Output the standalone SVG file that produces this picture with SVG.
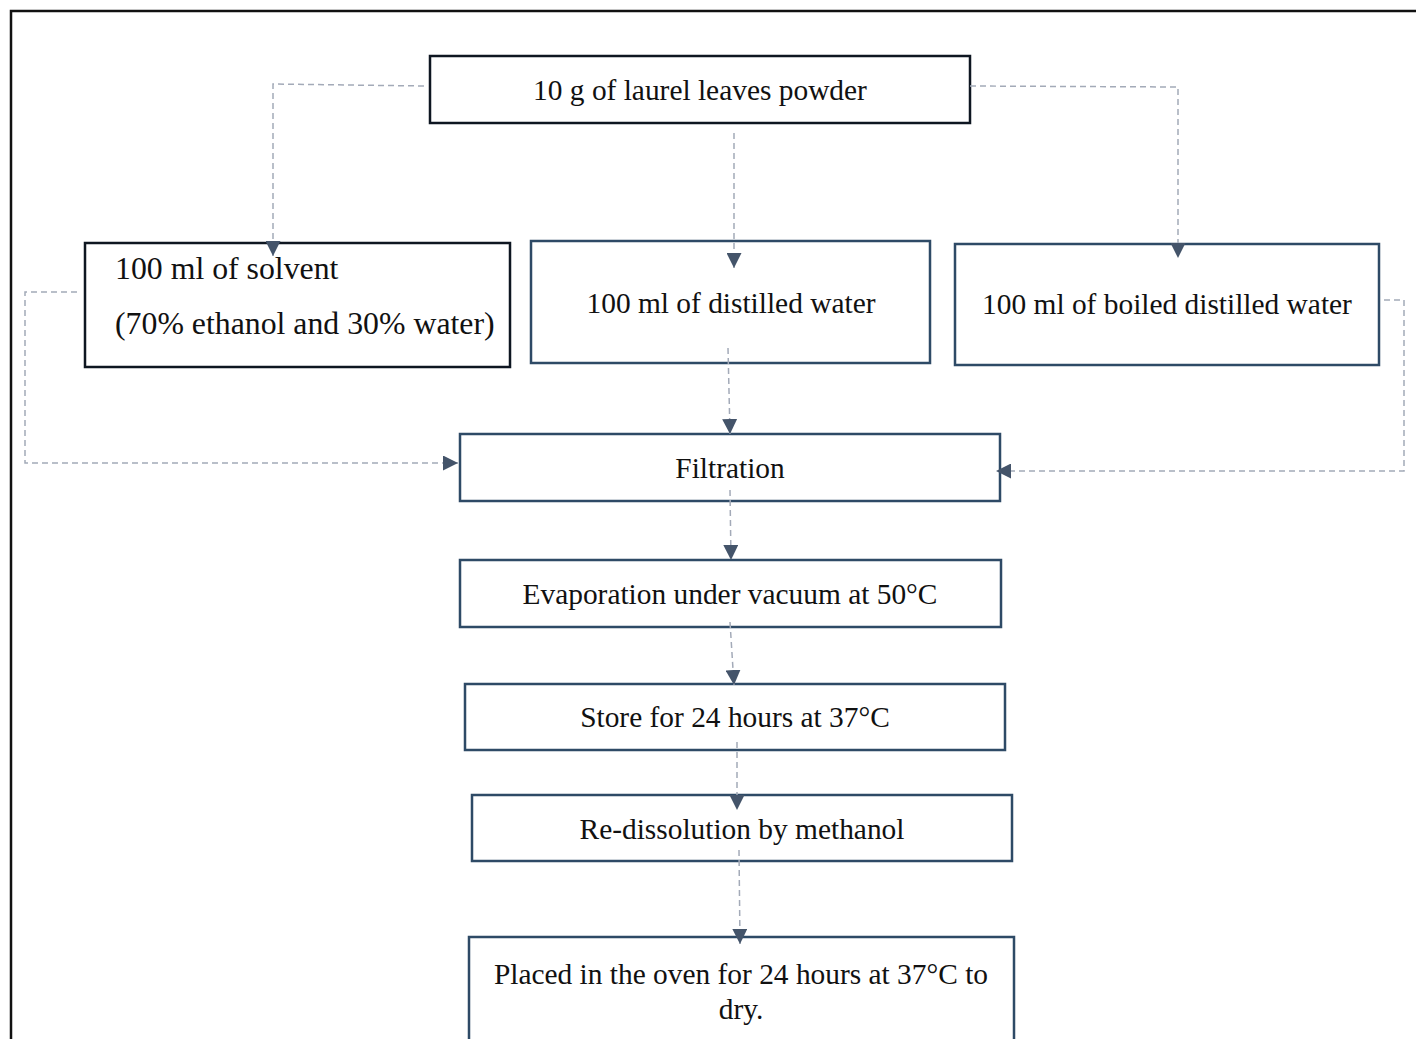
<svg xmlns="http://www.w3.org/2000/svg" width="1416" height="1039" viewBox="0 0 1416 1039">
<style>
.t{font-family:"Liberation Serif","Times New Roman",serif;font-size:29.4px;fill:#111}
.s{font-size:31.8px}
.c{text-anchor:middle}
.bk{fill:#fff;stroke:#0e1621;stroke-width:2.5}
.bl{fill:#fff;stroke:#2e4a66;stroke-width:2.5}
.cn{fill:none;stroke:#a3aab8;stroke-width:1.5;stroke-dasharray:6,4}
</style>
<defs>
<marker id="ah" viewBox="0 0 10 10" refX="10" refY="5" markerWidth="15" markerHeight="15" markerUnits="userSpaceOnUse" orient="auto">
<path d="M0,0 L10,5 L0,10 Z" fill="#44546a"/>
</marker>
</defs>
<rect x="11" y="11" width="1420" height="1040" fill="none" stroke="#111" stroke-width="2.5"/>
<g id="n1"><rect class="bk" x="430" y="56" width="540" height="67"/><text class="t c" x="700" y="100">10 g of laurel leaves powder</text></g>
<g id="n2"><rect class="bk" x="85" y="243" width="425" height="124"/><text class="t s" x="115" y="279">100 ml of solvent</text><text class="t s" x="115" y="334">(70% ethanol and 30% water)</text></g>
<g id="n3"><rect class="bl" x="531" y="241" width="399" height="122"/><text class="t c" x="731" y="313">100 ml of distilled water</text></g>
<g id="n4"><rect class="bl" x="955" y="244" width="424" height="121"/><text class="t c" x="1167" y="314">100 ml of boiled distilled water</text></g>
<g id="n5"><rect class="bl" x="460" y="434" width="540" height="67"/><text class="t c" x="730" y="478">Filtration</text></g>
<g id="n6"><rect class="bl" x="460" y="560" width="541" height="67"/><text class="t c" x="730" y="604">Evaporation under vacuum at 50°C</text></g>
<g id="n7"><rect class="bl" x="465" y="684" width="540" height="66"/><text class="t c" x="735" y="727">Store for 24 hours at 37°C</text></g>
<g id="n8"><rect class="bl" x="472" y="795" width="540" height="66"/><text class="t c" x="742" y="839">Re-dissolution by methanol</text></g>
<g id="n9"><rect class="bl" x="469" y="937" width="545" height="120"/><text class="t c" x="741" y="984">Placed in the oven for 24 hours at 37°C to</text><text class="t c" x="741" y="1019">dry.</text></g>
<g id="connectors">
<path class="cn" d="M424,86 L273,84 L273,256" marker-end="url(#ah)"/>
<path class="cn" d="M970,86 L1178,87 L1178,258" marker-end="url(#ah)"/>
<path class="cn" d="M734,133 L734,268" marker-end="url(#ah)"/>
<path class="cn" d="M728,348 L730,434" marker-end="url(#ah)"/>
<path class="cn" d="M77,292 L25,292 L25,463 L458,463" marker-end="url(#ah)"/>
<path class="cn" d="M1384,300 L1404,300 L1404,471 L996,471" marker-end="url(#ah)"/>
<path class="cn" d="M730,490 L731,560" marker-end="url(#ah)"/>
<path class="cn" d="M730,622 L734,685" marker-end="url(#ah)"/>
<path class="cn" d="M737,742 L737,810" marker-end="url(#ah)"/>
<path class="cn" d="M739,850 L740,944" marker-end="url(#ah)"/>
</g>
</svg>
